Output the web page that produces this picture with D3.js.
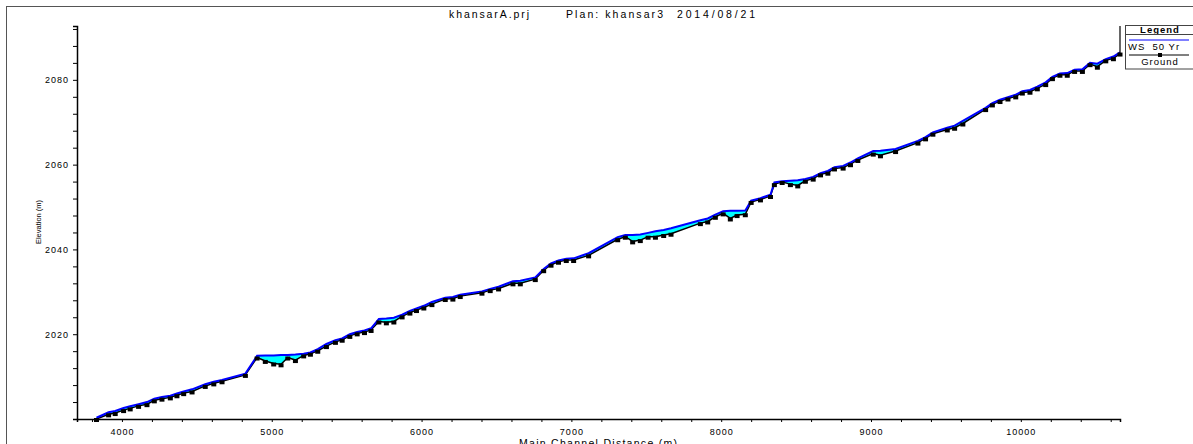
<!DOCTYPE html>
<html>
    <head>
        <title>khansarA profile</title>
        <script src="https://d3js.org/d3.v7.min.js"></script>
        <style>
            body { margin: 0; background: white; }
            text { font-family: Arial, 'Liberation Sans', sans-serif; }
        </style>
    </head>
    <body>
        <script type='text/javascript'>

            // main channel distance (m) of each cross section
            var stations = [3830, 3911, 3955, 4011, 4055, 4111, 4167, 4216, 4267, 4323, 4367, 4412, 4468,
                4556, 4613, 4668, 4824, 4902, 4957, 5013, 5062, 5107, 5158, 5213, 5258, 5307, 5365,
                5425, 5470, 5521, 5570, 5619, 5663, 5715, 5765, 5815, 5870, 5922, 5966, 6015, 6069,
                6158, 6209, 6258, 6403, 6458, 6514, 6610, 6659, 6759, 6815, 6864, 6914, 6966, 7015,
                7115, 7309, 7360, 7409, 7460, 7512, 7561, 7616, 7665, 7861, 7910, 7961, 8013, 8061,
                8106, 8161, 8200, 8262, 8329, 8355, 8407, 8462, 8511, 8562, 8614, 8663, 8712, 8756,
                8814, 8863, 8912, 9015, 9063, 9164, 9313, 9364, 9413, 9509, 9558, 9613, 9765, 9810,
                9861, 9914, 9966, 10010, 10061, 10110, 10166, 10211, 10261, 10310, 10359, 10411,
                10462, 10511, 10567, 10618, 10662]

            // ground elevation (m)
            var ground = [2000.0, 2001.1, 2001.4, 2002.1, 2002.5, 2003.1, 2003.5, 2004.4, 2004.8, 2005.1, 2005.6, 2006.1, 2006.5,
                2007.8, 2008.4, 2008.9, 2010.4, 2014.5, 2013.7, 2013.1, 2012.9, 2014.5, 2013.9, 2015.0, 2015.4, 2016.1, 2017.2,
                2018.2, 2018.7, 2019.6, 2020.2, 2020.5, 2021.0, 2023.0, 2022.8, 2023.0, 2024.2, 2025.1, 2025.7, 2026.3, 2027.1,
                2028.3, 2028.4, 2029.0, 2029.8, 2030.4, 2030.8, 2032.0, 2032.0, 2033.0, 2035.1, 2036.4, 2037.1, 2037.5, 2037.5,
                2038.6, 2042.4, 2043.0, 2041.9, 2042.2, 2043.0, 2043.0, 2043.4, 2043.7, 2046.2, 2046.6, 2047.7, 2048.5, 2047.3,
                2048.1, 2048.3, 2051.2, 2051.8, 2052.6, 2055.4, 2055.9, 2055.4, 2055.1, 2056.2, 2056.7, 2057.7, 2058.1, 2059.1,
                2059.3, 2060.1, 2061.1, 2062.6, 2062.2, 2063.2, 2065.2, 2066.2, 2067.3, 2068.3, 2068.7, 2069.7, 2073.1, 2074.2,
                2075.0, 2075.6, 2076.1, 2077.0, 2077.2, 2078.0, 2079.0, 2080.4, 2081.2, 2081.2, 2082.1, 2082.1,
                2083.7, 2083.1, 2084.6, 2085.1, 2086.2]

            // water surface, WS 50 Yr (m)
            var ws = [2000.3, 2001.6, 2001.9, 2002.6, 2003.0, 2003.5, 2004.0, 2004.8, 2005.2, 2005.5, 2006.0, 2006.5, 2007.0,
                2008.2, 2008.8, 2009.2, 2010.7, 2014.9, 2015.0, 2015.0, 2015.1, 2015.1, 2015.2, 2015.4, 2015.7, 2016.5, 2017.7,
                2018.6, 2019.0, 2020.0, 2020.5, 2020.9, 2021.4, 2023.6, 2023.7, 2023.9, 2024.6, 2025.5, 2026.1, 2026.7, 2027.6,
                2028.6, 2028.8, 2029.3, 2030.1, 2030.7, 2031.2, 2032.5, 2032.6, 2033.4, 2035.4, 2036.7, 2037.4, 2037.8, 2037.9,
                2039.1, 2042.9, 2043.4, 2043.4, 2043.5, 2043.9, 2044.3, 2044.6, 2045.0, 2046.9, 2047.3, 2048.2, 2049.0, 2049.1,
                2049.1, 2049.2, 2051.5, 2052.1, 2052.9, 2055.8, 2056.1, 2056.2, 2056.3, 2056.6, 2057.1, 2058.0, 2058.5, 2059.4,
                2059.7, 2060.5, 2061.5, 2063.2, 2063.3, 2063.7, 2065.6, 2066.5, 2067.6, 2068.7, 2069.2, 2070.3, 2073.4, 2074.5,
                2075.3, 2075.9, 2076.5, 2077.3, 2077.6, 2078.4, 2079.4, 2080.7, 2081.5, 2081.6, 2082.4, 2082.5,
                2084.0, 2083.8, 2084.9, 2085.5, 2086.5]

            var xTickLabels = [4000, 5000, 6000, 7000, 8000, 9000, 10000]
            var yTickLabels = [2020, 2040, 2060, 2080]
            var titleParts = ['khansarA.prj', 'Plan: khansar3', '2014/08/21']
            var legendItems = ['WS  50 Yr', 'Ground']

            var w = 1193
            var h = 444
            var plotLeft = 77, plotRight = 1120, plotTop = 26, plotBottom = 419

            var svg = d3.select('body').append('svg').attr('width', w).attr('height', h)

            // outer frame
            svg.append('rect')
                .attr('x', 6.5).attr('y', 6.5)
                .attr('width', 1220).attr('height', 500)
                .attr('fill', 'none').attr('stroke', '#555').attr('stroke-width', 1)

            var xScale = d3.scaleLinear()
                .domain([3700, d3.max(stations)])
                .range([plotLeft, plotRight])

            var yScale = d3.scaleLinear()
                .domain([2000, 2092.7])
                .range([plotBottom, plotTop])

            var rows = stations.map(function(d, i) {
                return { x: d, g: ground[i], ws: ws[i] }
            })

            // water between ground and WS
            var area = d3.area()
                .x(function(d) { return xScale(d.x) })
                .y0(function(d) { return yScale(d.g) })
                .y1(function(d) { return yScale(d.ws) })

            svg.append('path').datum(rows)
                .attr('d', area)
                .attr('fill', '#00ffff')

            var groundLine = d3.line()
                .x(function(d) { return xScale(d.x) })
                .y(function(d) { return yScale(d.g) })

            var wsLine = d3.line()
                .x(function(d) { return xScale(d.x) })
                .y(function(d) { return yScale(d.ws) })

            svg.append('path').datum(rows)
                .attr('d', groundLine)
                .attr('fill', 'none').attr('stroke', 'black').attr('stroke-width', 1.5)

            svg.append('path').datum(rows)
                .attr('d', wsLine)
                .attr('fill', 'none').attr('stroke', '#0000ff').attr('stroke-width', 2)

            svg.selectAll('rect.pt')
                .data(rows)
                .enter()
                .append('rect')
                .attr('class', 'pt')
                .attr('x', function(d) { return xScale(d.x) - 2.5 })
                .attr('y', function(d) { return yScale(d.g) - 1 })
                .attr('width', 5).attr('height', 4)
                .attr('fill', 'black')

            // vertical line at the last cross section
            var last = rows[rows.length - 1]
            svg.append('line')
                .attr('x1', xScale(last.x)).attr('x2', xScale(last.x))
                .attr('y1', plotTop).attr('y2', yScale(last.g))
                .attr('stroke', 'black').attr('stroke-width', 1.2)

            // axes
            var xAxis = d3.axisBottom(xScale)
                .tickValues(d3.range(3800, 10662, 200))
                .tickSize(3)
                .tickFormat(function(d) { return xTickLabels.indexOf(d) >= 0 ? d : '' })

            var gx = svg.append('g')
                .attr('transform', 'translate(0,' + plotBottom + ')')
                .call(xAxis)

            var yAxis = d3.axisLeft(yScale)
                .tickValues(d3.range(2000, 2093, 4))
                .tickSize(4)
                .tickFormat(function(d) { return yTickLabels.indexOf(d) >= 0 ? d : '' })

            var gy = svg.append('g')
                .attr('transform', 'translate(' + plotLeft + ',0)')
                .call(yAxis)

            gx.select('.domain').attr('stroke-width', 1.5)
            gy.select('.domain').attr('stroke-width', 1.5)
            gx.selectAll('text').attr('font-size', 9).attr('letter-spacing', 1)
                .attr('font-family', 'Arial, Liberation Sans, sans-serif').attr('dy', '1.1em')
            gy.selectAll('text').attr('font-size', 9).attr('letter-spacing', 1)
                .attr('font-family', 'Arial, Liberation Sans, sans-serif').attr('x', -8)

            // title
            var titleX = [449, 566, 677]
            var titleW = [80, 97, 78]
            svg.selectAll('text.title')
                .data(titleParts)
                .enter()
                .append('text')
                .attr('class', 'title')
                .text(function(d) { return d })
                .attr('x', function(d, i) { return titleX[i] })
                .attr('y', 18)
                .attr('font-size', 10.5)
                .attr('textLength', function(d, i) { return titleW[i] })
                .attr('lengthAdjust', 'spacing')

            svg.append('text')
                .text('Main Channel Distance (m)')
                .attr('x', 519).attr('y', 447)
                .attr('font-size', 10.5)
                .attr('textLength', 158).attr('lengthAdjust', 'spacing')

            svg.append('text')
                .text('Elevation (m)')
                .attr('transform', 'translate(41,222) rotate(-90)')
                .attr('text-anchor', 'middle')
                .attr('font-size', 7.5)

            // legend
            var lg = svg.append('g')
            lg.append('rect')
                .attr('x', 1125.5).attr('y', 25.5)
                .attr('width', 80).attr('height', 43.5)
                .attr('fill', 'white').attr('stroke', '#444').attr('stroke-width', 1)
            lg.append('text').text('Legend')
                .attr('x', 1160).attr('y', 33)
                .attr('text-anchor', 'middle')
                .attr('font-size', 9.5).attr('font-weight', 'bold').attr('letter-spacing', 1)
            lg.append('line')
                .attr('x1', 1125.5).attr('x2', 1200).attr('y1', 34.5).attr('y2', 34.5)
                .attr('stroke', '#444')
            lg.append('line')
                .attr('x1', 1129).attr('x2', 1189).attr('y1', 40).attr('y2', 40)
                .attr('stroke', '#0000ff').attr('stroke-width', 1)
            lg.append('text').text(legendItems[0])
                .attr('x', 1128).attr('y', 50)
                .attr('font-size', 9.5).attr('letter-spacing', 1)
                .attr('xml:space', 'preserve').style('white-space', 'pre')
            lg.append('line')
                .attr('x1', 1129).attr('x2', 1189).attr('y1', 55).attr('y2', 55)
                .attr('stroke', 'black').attr('stroke-width', 1)
            lg.append('rect')
                .attr('x', 1158).attr('y', 53).attr('width', 4).attr('height', 4)
                .attr('fill', 'black')
            lg.append('text').text(legendItems[1])
                .attr('x', 1160).attr('y', 65)
                .attr('text-anchor', 'middle')
                .attr('font-size', 9.5).attr('letter-spacing', 1)

        </script>
    </body>
</html>
